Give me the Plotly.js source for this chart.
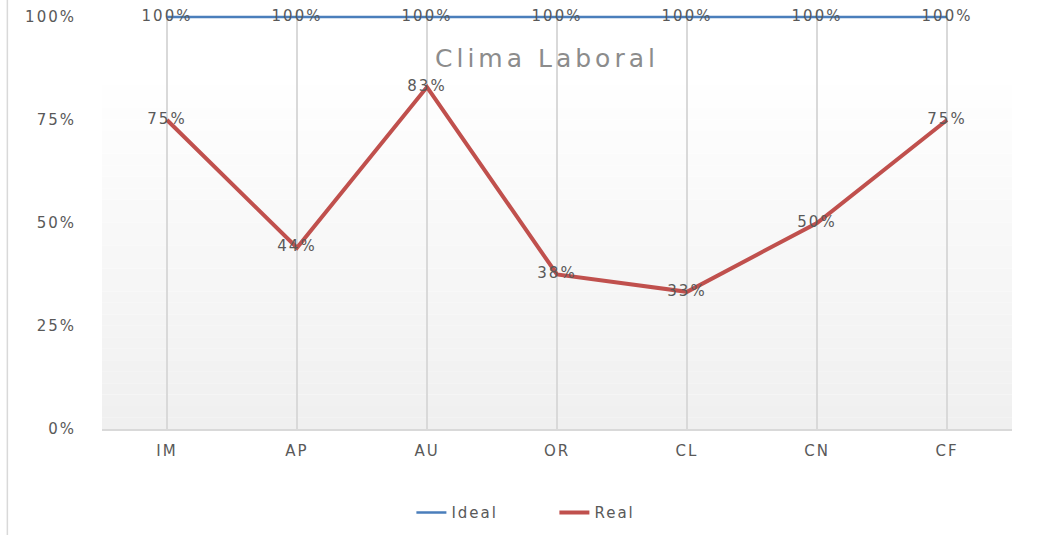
<!DOCTYPE html>
<html>
<head>
<meta charset="utf-8">
<script src="https://cdn.plot.ly/plotly-3.0.1.min.js"></script>
<style>
html,body{margin:0;padding:0;background:#fff;}
#chart{width:1047px;height:535px;}
#chart .xtick text, #chart .ytick text, #chart .textpoint text, #chart .legendtext { letter-spacing: 2px; }
#chart .gtitle { letter-spacing: 4px; }
</style>
</head>
<body>
<div id="chart"></div>
<script>
var categories = ["IM", "AP", "AU", "OR", "CL", "CN", "CF"];
var idealValues = [1, 1, 1, 1, 1, 1, 1];
var realValues = [0.75, 0.44, 0.83, 0.375, 0.333, 0.5, 0.75];
var seriesNames = ["Ideal", "Real"];

function pctLabels(arr) { return arr.map(function (v) { return Math.round(v * 100) + "%"; }); }

var FONT = "DejaVu Sans, sans-serif";
var labelFont = { family: FONT, size: 15, color: "#595959" };

var traces = [
  {
    x: categories, y: idealValues, name: seriesNames[0], type: "scatter", mode: "lines+text",
    line: { color: "#4a7ebb", width: 2.5 },
    text: pctLabels(idealValues), textposition: "middle center", textfont: labelFont,
    cliponaxis: false
  },
  {
    x: categories, y: realValues, name: seriesNames[1], type: "scatter", mode: "lines+text",
    line: { color: "#c0504d", width: 4 },
    text: pctLabels(realValues), textposition: "middle center", textfont: labelFont,
    cliponaxis: false
  }
];

// subtle vertical gradient fill for the plot area (background only)
var shapes = [];
var gTop = 0.835, steps = 30;
for (var i = 0; i < steps; i++) {
  var y0 = gTop * i / steps, y1 = gTop * (i + 1) / steps;
  var t = i / (steps - 1);
  var c = Math.round(240 + (254 - 240) * t);
  shapes.push({ type: "rect", xref: "paper", yref: "y", x0: 0, x1: 1, y0: y0, y1: y1,
    fillcolor: "rgb(" + c + "," + c + "," + c + ")", line: { width: 0 }, layer: "below" });
}
// left chart border line
shapes.push({ type: "line", xref: "paper", yref: "paper", x0: -0.104, x1: -0.104, y0: -0.27, y1: 1.03,
  line: { color: "#d9d9d9", width: 1.5 } });

var layout = {
  width: 1047, height: 535,
  margin: { l: 102, r: 35, t: 10, b: 106, autoexpand: false },
  paper_bgcolor: "#ffffff", plot_bgcolor: "rgba(0,0,0,0)",
  showlegend: true,
  legend: { orientation: "h", x: 0.34, xanchor: "left", y: -0.2, yanchor: "middle",
    entrywidth: 98, entrywidthmode: "pixels",
    font: { family: FONT, size: 15, color: "#595959" }, traceorder: "normal" },
  title: { text: "Clima Laboral", xref: "paper", yref: "paper", x: 0.489, xanchor: "center",
    y: 0.885, yanchor: "middle", font: { family: FONT, size: 25, color: "#8c8c8c" } },
  xaxis: {
    type: "category", range: [-0.5, 6.5], showgrid: true, gridcolor: "#d9d9d9", gridwidth: 1.5,
    showline: true, linecolor: "#d9d9d9", linewidth: 1.5, ticks: "", zeroline: false,
    ticklabelstandoff: 7, automargin: false,
    tickfont: { family: FONT, size: 15, color: "#595959" }, fixedrange: true
  },
  yaxis: {
    range: [0, 1.017], tickvals: [0, 0.25, 0.5, 0.75, 1], tickformat: ".0%",
    showgrid: false, zeroline: false, showline: false, ticks: "", ticklabelstandoff: 25,
    automargin: false,
    tickfont: { family: FONT, size: 15, color: "#595959" }, fixedrange: true
  },
  shapes: shapes
};

Plotly.newPlot("chart", traces, layout, { displayModeBar: false, staticPlot: true });
</script>
</body>
</html>
